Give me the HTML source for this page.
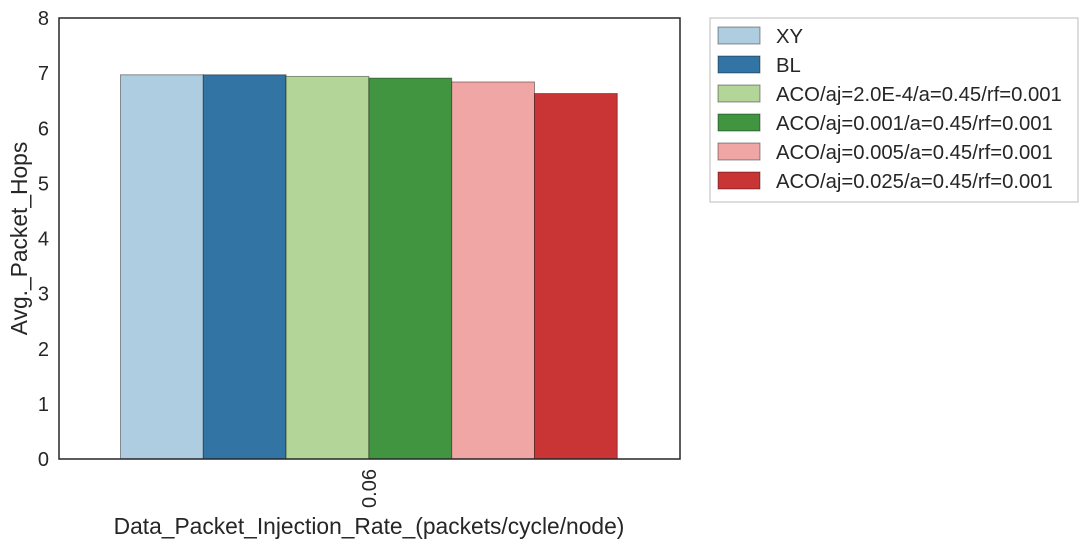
<!DOCTYPE html>
<html><head><meta charset="utf-8"><style>
body{margin:0;background:#fff;font-family:"Liberation Sans",Arial,sans-serif}
svg text{font-family:"Liberation Sans",Arial,sans-serif;fill:#262626}
</style></head><body>
<svg id="c" width="1088" height="547"></svg>
<script>
const categories=["0.06"];
const seriesNames=["XY","BL","ACO/aj=2.0E-4/a=0.45/rf=0.001","ACO/aj=0.001/a=0.45/rf=0.001","ACO/aj=0.005/a=0.45/rf=0.001","ACO/aj=0.025/a=0.45/rf=0.001"];
const seriesValues=[6.97,6.97,6.94,6.91,6.84,6.63];
const yTicks=[0,1,2,3,4,5,6,7,8];
const colors=["#aecde1","#3274a3","#b3d597","#419541","#efa6a4","#c93434"];
const NS="http://www.w3.org/2000/svg",svg=document.getElementById('c');
function el(t,a,p){const e=document.createElementNS(NS,t);for(const k in a)e.setAttribute(k,a[k]);(p||svg).appendChild(e);return e;}
const L=59,R=680,T=18,B=459;
const y=v=>B-(v/8)*(B-T);
const bw=82.8,x0=120.5;
const x=i=>x0+i*bw;
for(const t of yTicks){const tx=el('text',{x:L-10,y:y(t)+7,'text-anchor':'end','font-size':20});tx.textContent=t;
}
seriesValues.forEach((v,i)=>{const r=el('rect',{x:x(i),y:y(v),width:bw,height:B-y(v),fill:colors[i],stroke:'rgba(0,0,0,0.4)','stroke-width':1});
});
const fr=el('rect',{x:L,y:T,width:R-L,height:B-T,fill:'none',stroke:'#262626','stroke-width':1.5});

const cx=(x(0)+x(seriesValues.length))/2;
const ct=el('text',{x:0,y:0,'font-size':20,'text-anchor':'end',transform:`translate(${cx+7},${B+10}) rotate(-90)`});ct.textContent=categories[0];

const xt=el('text',{x:369,y:534,'font-size':22.8,'text-anchor':'middle'});xt.textContent="Data_Packet_Injection_Rate_(packets/cycle/node)";

const yt=el('text',{x:0,y:0,'font-size':22.8,'text-anchor':'middle',transform:`translate(27,${(T+B)/2}) rotate(-90)`});yt.textContent="Avg._Packet_Hops";

const lg=el('rect',{x:710,y:18,width:368,height:184,fill:'#fff',stroke:'#bbb','stroke-width':1});

seriesNames.forEach((n,i)=>{const yy=27+i*29;
const s=el('rect',{x:718,y:yy,width:42,height:17,fill:colors[i],stroke:'rgba(0,0,0,0.4)'});

const t=el('text',{x:776,y:yy+16,'font-size':20.3});t.textContent=n;
});
</script></body></html>
